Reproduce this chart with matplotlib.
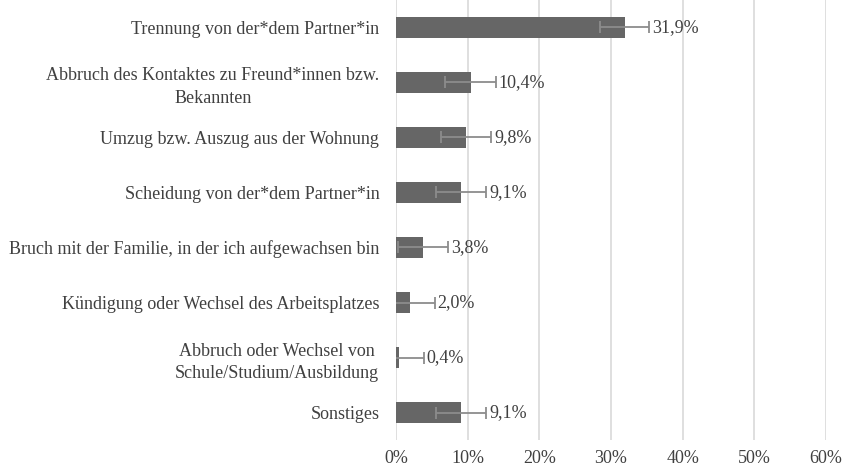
import matplotlib.pyplot as plt
import numpy as np

categories = [
    "Trennung von der*dem Partner*in",
    "Abbruch des Kontaktes zu Freund*innen bzw.\nBekannten",
    "Umzug bzw. Auszug aus der Wohnung",
    "Scheidung von der*dem Partner*in",
    "Bruch mit der Familie, in der ich aufgewachsen bin",
    "Kündigung oder Wechsel des Arbeitsplatzes",
    "Abbruch oder Wechsel von\nSchule/Studium/Ausbildung",
    "Sonstiges",
]
values = [31.9, 10.4, 9.8, 9.1, 3.8, 2.0, 0.4, 9.1]
errors = [3.4, 3.5, 3.5, 3.5, 3.5, 3.4, 3.5, 3.5]
xticks = [0, 10, 20, 30, 40, 50, 60]

plt.rcParams['font.family'] = ['Liberation Serif', 'DejaVu Serif']
fs = 13

fig = plt.figure(figsize=(8.43, 4.73), dpi=100)
ax = fig.add_axes([396 / 843, 33 / 473, 430 / 843, 440 / 473])

y = np.arange(len(categories))
ax.barh(y, values, height=0.37, color='#666666', zorder=3)
ax.errorbar(values, y, xerr=errors, fmt='none', ecolor='#8c8c8c',
            elinewidth=1.3, capsize=4, capthick=1.3, zorder=4)

for yi, v, e in zip(y, values, errors):
    ax.text(v + e + 0.4, yi, f"{v:.1f}%".replace('.', ','), va='center',
            ha='left', fontsize=fs, color='#404040', zorder=5)

ax.set_xlim(0, 60)
ax.set_ylim(len(categories) - 0.5, -0.5)
ax.set_xticks(xticks)
ax.set_xticklabels([f"{t}%" for t in xticks], fontsize=fs, color='#404040')
ax.set_yticks(y)
ax.set_yticklabels(categories, fontsize=fs, color='#404040',
                   multialignment='center', linespacing=1.4)
ax.tick_params(axis='both', length=0)
ax.tick_params(axis='y', pad=12)
ax.tick_params(axis='x', pad=7)
ax.grid(axis='x', color='#d9d9d9', linewidth=1.2, zorder=0)
for s in ax.spines.values():
    s.set_visible(False)

fig.savefig('out.png', dpi=100)
